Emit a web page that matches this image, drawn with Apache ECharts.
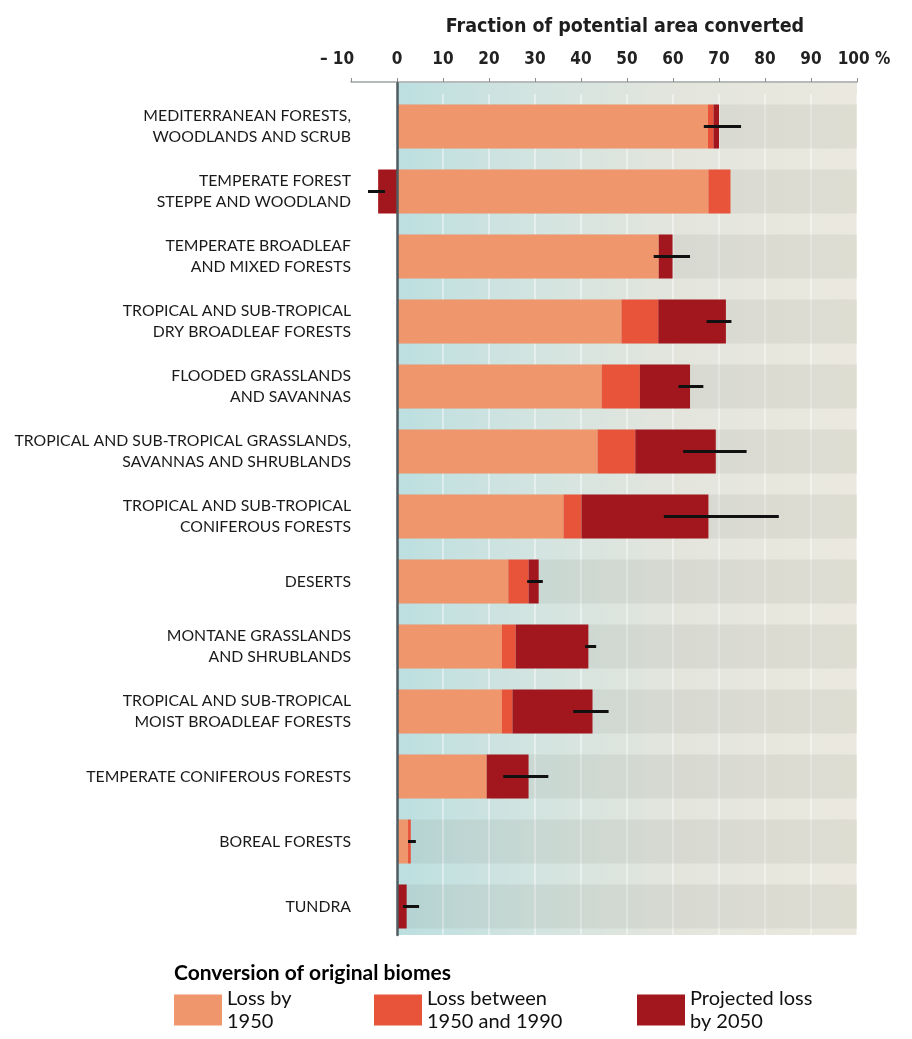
<!DOCTYPE html>
<html>
<head>
<meta charset="utf-8">
<script src="https://cdn.jsdelivr.net/npm/echarts@6/dist/echarts.min.js"></script>
<style>
  html, body { margin: 0; padding: 0; background: #ffffff; }
  #chart { width: 912px; height: 1039px; }
</style>
</head>
<body>
<div id="chart"></div>
<script>
// Biomes, top to bottom
const biomes = [
  'MEDITERRANEAN FORESTS,\nWOODLANDS AND SCRUB',
  'TEMPERATE FOREST\nSTEPPE AND WOODLAND',
  'TEMPERATE BROADLEAF\nAND MIXED FORESTS',
  'TROPICAL AND SUB-TROPICAL\nDRY BROADLEAF FORESTS',
  'FLOODED GRASSLANDS\nAND SAVANNAS',
  'TROPICAL AND SUB-TROPICAL GRASSLANDS,\nSAVANNAS AND SHRUBLANDS',
  'TROPICAL AND SUB-TROPICAL\nCONIFEROUS FORESTS',
  'DESERTS',
  'MONTANE GRASSLANDS\nAND SHRUBLANDS',
  'TROPICAL AND SUB-TROPICAL\nMOIST BROADLEAF FORESTS',
  'TEMPERATE CONIFEROUS FORESTS',
  'BOREAL FORESTS',
  'TUNDRA'
];

// Fraction of potential area converted (%), per period
const lossBy1950         = [67.6, 67.7, 56.9, 48.8, 44.5, 43.6, 36.2, 24.2, 22.8, 22.8, 19.5, 2.4, 0.0];
const lossBetween1950_90 = [ 1.2,  4.8,  0.0,  8.0,  8.3,  8.2,  3.9,  4.4,  3.0,  2.3,  0.0, 0.6, 0.0];
const projectedLoss2050  = [ 1.2, -4.1,  3.0, 14.7, 10.9, 17.5, 27.6,  2.2, 15.8, 17.4,  9.1, 0.0, 2.1];

// Uncertainty range of the 2050 projection (%)
const rangeLow  = [66.7, -6.3, 55.8, 67.3, 61.2, 62.2, 58.0, 28.3, 40.9, 38.3, 23.1, 2.4, 1.3];
const rangeHigh = [74.8, -2.6, 63.7, 72.7, 66.6, 76.0, 83.0, 31.7, 43.3, 46.0, 32.9, 4.1, 4.8];

// Value axis
const axisMin = -10;
const axisMax = 100;
const axisStep = 10;

const seriesNames  = ['Loss by 1950', 'Loss between 1950 and 1990', 'Projected loss by 2050'];
const legendLabels = ['Loss by\n1950', 'Loss between\n1950 and 1990', 'Projected loss\nby 2050'];
const seriesColors = ['#f0966c', '#e8543a', '#a2171e'];

const headingFont = '"Liberation Sans Narrow", "DejaVu Sans Condensed", "Liberation Sans", sans-serif';
const bodyFont = 'Lato, "Noto Sans", sans-serif';
const BAR_W = 44;

const chart = echarts.init(document.getElementById('chart'), null, { renderer: 'canvas' });

const stackedSeries = [lossBy1950, lossBetween1950_90, projectedLoss2050].map((values, k) => ({
  name: seriesNames[k],
  type: 'bar',
  stack: 'loss',
  xAxisIndex: 1,
  yAxisIndex: 1,
  barWidth: BAR_W,
  z: 3,
  silent: true,
  itemStyle: { color: seriesColors[k] },
  data: values
}));

const option = {
  animation: false,
  backgroundColor: '#ffffff',
  title: {
    text: 'Conversion of original biomes',
    left: 174,
    top: 963,
    padding: 0,
    textStyle: { fontFamily: bodyFont, fontWeight: 'bold', fontSize: 21, color: '#000000' }
  },
  legend: legendLabels.map((label, k) => ({
    data: [seriesNames[k]],
    left: [174, 374, 637][k],
    top: 987,
    padding: 0,
    icon: 'rect',
    itemWidth: 48,
    itemHeight: 31,
    selectedMode: false,
    formatter: () => label,
    textStyle: { fontFamily: bodyFont, fontSize: 20, lineHeight: 23, color: '#111111' }
  })),
  grid: [
    {
      // tinted plotting field from 0 to 100 %
      left: 397, right: 55, top: 83, bottom: 104,
      show: true,
      borderWidth: 0,
      outerBoundsMode: 'none',
      backgroundColor: {
        type: 'linear', x: 0, y: 0, x2: 1, y2: 0,
        colorStops: [
          { offset: 0.00, color: '#bcdfe0' },
          { offset: 0.30, color: '#d3e4e0' },
          { offset: 0.60, color: '#e3e5dd' },
          { offset: 1.00, color: '#ebe9df' }
        ]
      }
    },
    {
      left: 351, right: 55, top: 94, bottom: 100,
      outerBoundsMode: 'none'
    }
  ],
  xAxis: [
    { gridIndex: 0, type: 'value', min: 0, max: 100, show: false },
    {
      gridIndex: 1,
      type: 'value',
      position: 'top',
      offset: 12,
      min: axisMin,
      max: axisMax,
      interval: axisStep,
      name: 'Fraction of potential area converted',
      nameLocation: 'middle',
      nameGap: 45,
      nameTextStyle: {
        fontFamily: headingFont, fontWeight: 'bold', fontSize: 19.5, color: '#1e1e1e',
        padding: [0, 0, 0, 42]
      },
      axisLine: { show: true, onZero: false, lineStyle: { color: '#a0a4a4', width: 1.5 } },
      axisTick: { show: true, length: 4, lineStyle: { color: '#8a8e8e', width: 1 } },
      splitLine: { show: true, lineStyle: { color: 'rgba(255,255,255,0.55)', width: 1.5 } },
      axisLabel: {
        margin: 14,
        fontFamily: headingFont,
        fontWeight: 'bold',
        fontSize: 17,
        color: '#222222',
        formatter: (v) => {
          if (v === axisMin) return '{neg|\u2013 ' + Math.abs(v) + '}';
          if (v === axisMax) return '{pct|' + v + ' %}';
          return String(v);
        },
        rich: {
          neg: { fontFamily: headingFont, fontWeight: 'bold', fontSize: 17, color: '#222222', padding: [0, 28, 0, 0] },
          pct: { fontFamily: headingFont, fontWeight: 'bold', fontSize: 17, color: '#222222', padding: [0, 0, 0, 14] }
        }
      }
    }
  ],
  yAxis: [
    {
      // zero line
      gridIndex: 0, type: 'value', min: 0, max: 1, position: 'left', z: 6,
      axisLine: { show: true, onZero: false, lineStyle: { color: '#4f5d62', width: 2.5 } },
      axisTick: { show: false }, axisLabel: { show: false }, splitLine: { show: false }
    },
    {
      gridIndex: 1,
      type: 'category',
      data: biomes,
      inverse: true,
      axisLine: { show: false },
      axisTick: { show: false },
      splitLine: { show: false },
      axisLabel: {
        margin: 0,
        align: 'right',
        fontFamily: bodyFont,
        fontSize: 15.8,
        lineHeight: 21.5,
        color: '#1a1a1a'
      }
    }
  ],
  series: [
    {
      // darker stripe behind each biome row
      name: 'rows',
      type: 'custom',
      xAxisIndex: 1,
      yAxisIndex: 1,
      silent: true,
      z: 1,
      data: biomes.map((b, i) => [i]),
      encode: { y: 0 },
      renderItem: (params, api) => {
        const i = api.value(0);
        const a = api.coord([0, i]);
        const b = api.coord([axisMax, i]);
        return {
          type: 'rect',
          shape: { x: a[0], y: a[1] - BAR_W / 2, width: b[0] - a[0], height: BAR_W },
          style: { fill: 'rgba(105,105,90,0.09)' }
        };
      }
    },
    ...stackedSeries,
    {
      name: 'range',
      type: 'custom',
      xAxisIndex: 1,
      yAxisIndex: 1,
      silent: true,
      z: 5,
      data: biomes.map((b, i) => [rangeLow[i], rangeHigh[i], i]),
      encode: { x: [0, 1], y: 2 },
      renderItem: (params, api) => {
        const i = api.value(2);
        const a = api.coord([api.value(0), i]);
        const b = api.coord([api.value(1), i]);
        return {
          type: 'line',
          shape: { x1: a[0], y1: a[1], x2: b[0], y2: b[1] },
          style: { stroke: '#111111', lineWidth: 3 }
        };
      }
    }
  ]
};

chart.setOption(option);
</script>
</body>
</html>
